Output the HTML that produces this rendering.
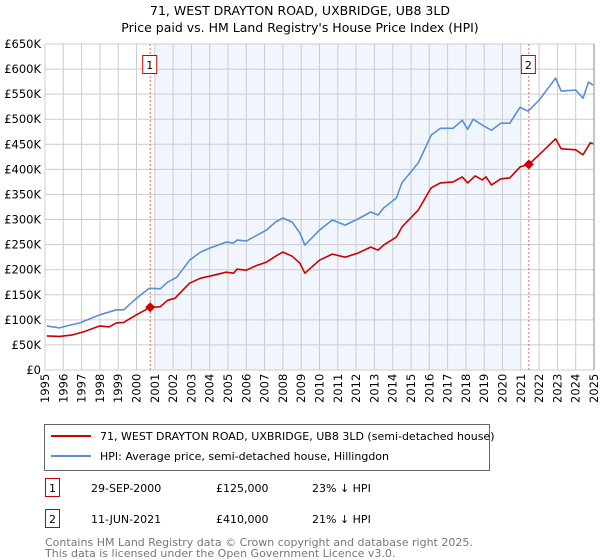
<!DOCTYPE html>
<html><head><meta charset="utf-8"><style>
body{margin:0;background:#fff;font-family:"Liberation Sans","DejaVu Sans",sans-serif;}
#wrap{position:relative;width:600px;height:560px;overflow:hidden}
</style></head><body>
<div id="wrap">
<svg id="chart" width="600" height="560" font-family="DejaVu Sans, Liberation Sans, sans-serif">
<text x="300" y="15" text-anchor="middle" font-size="12.5" fill="#000">71, WEST DRAYTON ROAD, UXBRIDGE, UB8 3LD</text>
<text x="300" y="32" text-anchor="middle" font-size="12.5" fill="#000">Price paid vs. HM Land Registry's House Price Index (HPI)</text>
<g id="plot"></g>
<g>
<rect x="44.5" y="424.5" width="445" height="46" fill="#fff" stroke="#666"/>
<line x1="51" y1="436" x2="91" y2="436" stroke="#cc0000" stroke-width="2"/>
<text x="100" y="440" font-size="11">71, WEST DRAYTON ROAD, UXBRIDGE, UB8 3LD (semi-detached house)</text>
<line x1="51" y1="456" x2="91" y2="456" stroke="#5b8fd4" stroke-width="2"/>
<text x="100" y="460" font-size="11">HPI: Average price, semi-detached house, Hillingdon</text>
</g>
<g font-size="11">
<rect x="45.5" y="478.5" width="14" height="18" fill="#fff" stroke="#cc0000"/>
<text x="52.5" y="492" text-anchor="middle">1</text>
<text x="91" y="492">29-SEP-2000</text><text x="216" y="492">£125,000</text><text x="312" y="492">23% ↓ HPI</text>
<rect x="45.5" y="509.5" width="14" height="18" fill="#fff" stroke="#cc0000"/>
<text x="52.5" y="523" text-anchor="middle">2</text>
<text x="91" y="523">11-JUN-2021</text><text x="216" y="523">£410,000</text><text x="312" y="523">21% ↓ HPI</text>
</g>
<text x="45" y="546" font-size="11" fill="#777">Contains HM Land Registry data © Crown copyright and database right 2025.</text>
<text x="45" y="557" font-size="11" fill="#777">This data is licensed under the Open Government Licence v3.0.</text>
</svg>
</div>
<script>
const hpiYears=[1995.1,1995.8,1996.2,1996.9,1998.0,1998.9,1999.3,2000.0,2000.7,2001.3,2001.7,2002.2,2002.9,2003.5,2004.0,2004.9,2005.3,2005.5,2006.0,2006.6,2007.1,2007.6,2008.0,2008.5,2008.93,2009.2,2010.0,2010.7,2011.4,2012.1,2012.8,2013.2,2013.5,2014.2,2014.5,2015.4,2016.1,2016.6,2017.3,2017.8,2018.1,2018.4,2018.9,2019.4,2019.9,2020.4,2020.96,2021.4,2022.0,2022.9,2023.2,2024.0,2024.4,2024.7,2024.95];
const hpiValues=[88,84,88,94,110,120,120,143,163,162,175,185,219,235,243,255,253,259,257,269,279,295,303,295,273,249,279,299,289,301,315,309,323,343,373,413,468,482,482,498,480,500,488,478,492,492,524,516,538,582,556,558,542,574,568];
const priceYears=[1995.1,1995.8,1996.5,1997.1,1998.0,1998.5,1998.9,1999.3,2000.0,2000.75,2001.3,2001.7,2002.1,2002.9,2003.5,2004.0,2004.9,2005.3,2005.5,2006.0,2006.6,2007.1,2007.7,2008.0,2008.5,2008.93,2009.2,2010.0,2010.7,2011.4,2012.1,2012.8,2013.2,2013.5,2014.2,2014.5,2015.4,2016.1,2016.6,2017.3,2017.8,2018.1,2018.5,2018.9,2019.1,2019.4,2019.9,2020.4,2020.96,2021.44,2022.0,2022.9,2023.2,2024.0,2024.4,2024.8,2024.95];
const priceValues=[68,67,70,76,88,86,94,95,110,125,126,139,143,173,183,187,195,193,201,199,209,215,229,235,227,213,193,219,231,225,233,245,239,249,265,285,319,363,373,375,385,373,387,379,385,369,381,383,405,410,429,461,441,439,429,453,451];
const saleYears=[2000.75,2021.44];
const saleValues=[125,410];
const saleLabels=["1","2"];
const yTicks=[0,50,100,150,200,250,300,350,400,450,500,550,600,650];
const yTickLabels=["£0","£50K","£100K","£150K","£200K","£250K","£300K","£350K","£400K","£450K","£500K","£550K","£600K","£650K"];
const xTicks=[1995,1996,1997,1998,1999,2000,2001,2002,2003,2004,2005,2006,2007,2008,2009,2010,2011,2012,2013,2014,2015,2016,2017,2018,2019,2020,2021,2022,2023,2024,2025];
const shadeRange=[2001,2021];

const X0=45,X1=594,Y0=370,Y1=44;
const xs=y=>X0+(y-1995)/30*(X1-X0);
const ys=v=>Y0-v/650*(Y0-Y1);
const NS="http://www.w3.org/2000/svg";
const g=document.getElementById('plot');
function mk(t,a){const e=document.createElementNS(NS,t);for(const k in a)e.setAttribute(k,a[k]);g.appendChild(e);return e;}
let sh=mk('rect',{x:xs(shadeRange[0]),y:Y1,width:xs(shadeRange[1])-xs(shadeRange[0]),height:Y0-Y1,fill:'#eef3fc',opacity:0.8});


xTicks.forEach(t=>{
 const l=mk('line',{x1:xs(t),x2:xs(t),y1:Y1,y2:Y0,stroke:'#cccccc','stroke-width':1});
 
 
 const tx=mk('text',{transform:`translate(${xs(t)+4},${Y0+33}) rotate(-90)`,'font-size':11.5,fill:'#000'});
 tx.textContent=t;
 
 
});
yTicks.forEach((t,i)=>{
 const l=mk('line',{x1:X0,x2:X1,y1:ys(t),y2:ys(t),stroke:'#cccccc','stroke-width':1});
 
 
 const tx=mk('text',{x:X0-4,y:ys(t)+4,'text-anchor':'end','font-size':11.5,fill:'#000'});
 tx.textContent=yTickLabels[i];
 
 
});
const rb=mk('line',{x1:X1,x2:X1,y1:Y1,y2:Y0,stroke:'#888','stroke-width':1});


saleYears.forEach((y,i)=>{
 const l=mk('line',{x1:xs(y),x2:xs(y),y1:Y1,y2:Y0,stroke:'#e66','stroke-width':1,'stroke-dasharray':'2,2'});
 
 
});
function path(xv,yv,c,n){const d=xv.map((x,i)=>(i?'L':'M')+xs(x).toFixed(1)+','+ys(yv[i]).toFixed(1)).join('');
 const p=mk('path',{d:d,fill:'none',stroke:c,'stroke-width':1.6,'stroke-linejoin':'round'});
 
 }
path(hpiYears,hpiValues,'#5b8fd4','hpi-line');
path(priceYears,priceValues,'#cc0000','price-line');
saleYears.forEach((y,i)=>{
 const cx=xs(y),cy=ys(saleValues[i]);
 const d=mk('path',{d:`M${cx},${cy-5}L${cx+5},${cy}L${cx},${cy+5}L${cx-5},${cy}Z`,fill:'#cc0000'});
 
 
 const b=mk('rect',{x:cx-7.5,y:55.5,width:14,height:18,fill:'#fff',stroke:'#cc0000'});
 
 
 const t=mk('text',{x:cx-0.5,y:69,'text-anchor':'middle','font-size':11});
 t.textContent=saleLabels[i];
 
 
});
</script>
</body></html>
